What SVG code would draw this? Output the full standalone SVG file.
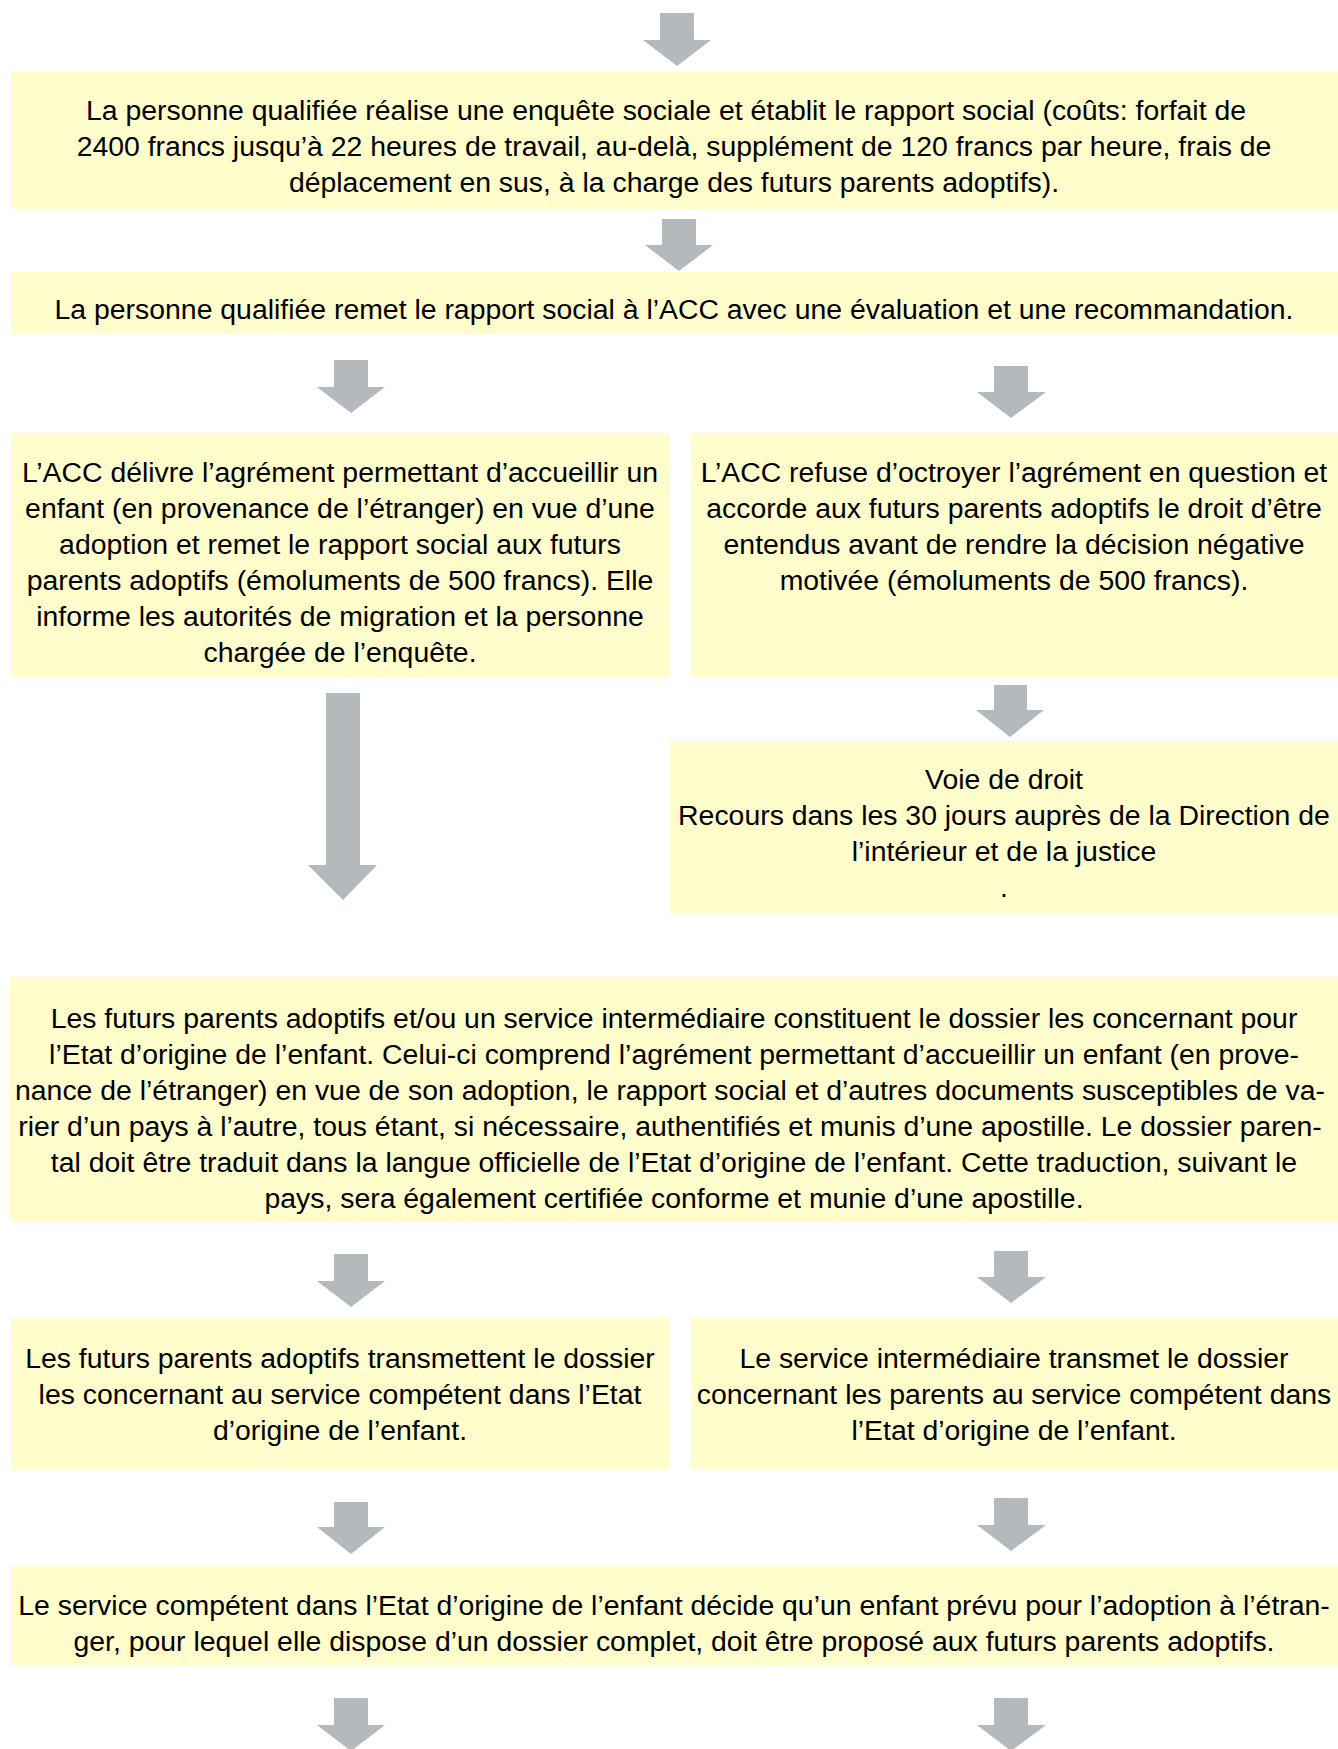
<svg xmlns="http://www.w3.org/2000/svg" width="1338" height="1749" viewBox="0 0 1338 1749">
<style>
.box{fill:#FFFDCC;}
.t{font-family:"Liberation Sans",Arial,sans-serif;font-size:28.4px;fill:#000;text-anchor:middle;}
.arr{fill:#B3B9BC;}
</style>
<rect width="1338" height="1749" fill="#ffffff"/>
<g id="connectors">
<polygon class="arr" points="660,13 694,13 694,40 711,40 677,66 643,40 660,40"/>
<polygon class="arr" points="662,219 696,219 696,245 713,245 679,271 645,245 662,245"/>
<polygon class="arr" points="334,360 368,360 368,387 385,387 351,413 317,387 334,387"/>
<polygon class="arr" points="994,366 1028,366 1028,392 1046,392 1011,418 977,392 994,392"/>
<polygon class="arr" points="994,685 1027,685 1027,710 1044,710 1010,737 976,710 994,710"/>
<polygon class="arr" points="326,693 360,693 360,865 377,865 343,900 308,865 326,865"/>
<polygon class="arr" points="334,1254 368,1254 368,1281 385,1281 351,1307 317,1281 334,1281"/>
<polygon class="arr" points="994,1251 1028,1251 1028,1277 1046,1277 1011,1303 977,1277 994,1277"/>
<polygon class="arr" points="334,1502 368,1502 368,1527 385,1527 351,1554 317,1527 334,1527"/>
<polygon class="arr" points="994,1498 1028,1498 1028,1525 1046,1525 1011,1551 977,1525 994,1525"/>
<polygon class="arr" points="334,1698 368,1698 368,1725 385,1725 351,1751 317,1725 334,1725"/>
<polygon class="arr" points="994,1698 1028,1698 1028,1725 1046,1725 1011,1751 977,1725 994,1725"/>
</g>
<g id="n1">
<rect class="box" x="11" y="72" width="1327" height="137"/>
<text class="t" x="666" y="120">La personne qualifiée réalise une enquête sociale et établit le rapport social (coûts: forfait de</text>
<text class="t" x="674" y="156">2400 francs jusqu’à 22 heures de travail, au-delà, supplément de 120 francs par heure, frais de</text>
<text class="t" x="674" y="192">déplacement en sus, à la charge des futurs parents adoptifs).</text>
</g>
<g id="n2">
<rect class="box" x="11" y="272" width="1327" height="62"/>
<text class="t" x="674" y="319">La personne qualifiée remet le rapport social à l’ACC avec une évaluation et une recommandation.</text>
</g>
<g id="n3">
<rect class="box" x="11" y="433" width="659" height="244"/>
<text class="t" x="340" y="482">L’ACC délivre l’agrément permettant d’accueillir un</text>
<text class="t" x="340" y="518">enfant (en provenance de l’étranger) en vue d’une</text>
<text class="t" x="340" y="554">adoption et remet le rapport social aux futurs</text>
<text class="t" x="340" y="590">parents adoptifs (émoluments de 500 francs). Elle</text>
<text class="t" x="340" y="626">informe les autorités de migration et la personne</text>
<text class="t" x="340" y="662">chargée de l’enquête.</text>
</g>
<g id="n4">
<rect class="box" x="691" y="433" width="647" height="244"/>
<text class="t" x="1014" y="482">L’ACC refuse d’octroyer l’agrément en question et</text>
<text class="t" x="1014" y="518">accorde aux futurs parents adoptifs le droit d’être</text>
<text class="t" x="1014" y="554">entendus avant de rendre la décision négative</text>
<text class="t" x="1014" y="590">motivée (émoluments de 500 francs).</text>
</g>
<g id="n5">
<rect class="box" x="670" y="741" width="668" height="172"/>
<text class="t" x="1004" y="789">Voie de droit</text>
<text class="t" x="1004" y="825">Recours dans les 30 jours auprès de la Direction de</text>
<text class="t" x="1004" y="861">l’intérieur et de la justice</text>
<text class="t" x="1004" y="897">.</text>
</g>
<g id="n6">
<rect class="box" x="10" y="977" width="1328" height="245"/>
<text class="t" x="674" y="1028">Les futurs parents adoptifs et/ou un service intermédiaire constituent le dossier les concernant pour</text>
<text class="t" x="674" y="1064">l’Etat d’origine de l’enfant. Celui-ci comprend l’agrément permettant d’accueillir un enfant (en prove-</text>
<text class="t" x="670" y="1100">nance de l’étranger) en vue de son adoption, le rapport social et d’autres documents susceptibles de va-</text>
<text class="t" x="670" y="1136">rier d’un pays à l’autre, tous étant, si nécessaire, authentifiés et munis d’une apostille. Le dossier paren-</text>
<text class="t" x="674" y="1172">tal doit être traduit dans la langue officielle de l’Etat d’origine de l’enfant. Cette traduction, suivant le</text>
<text class="t" x="674" y="1208">pays, sera également certifiée conforme et munie d’une apostille.</text>
</g>
<g id="n7">
<rect class="box" x="11" y="1318" width="659" height="152"/>
<text class="t" x="340" y="1368">Les futurs parents adoptifs transmettent le dossier</text>
<text class="t" x="340" y="1404">les concernant au service compétent dans l’Etat</text>
<text class="t" x="340" y="1440">d’origine de l’enfant.</text>
</g>
<g id="n8">
<rect class="box" x="691" y="1318" width="647" height="152"/>
<text class="t" x="1014" y="1368">Le service intermédiaire transmet le dossier</text>
<text class="t" x="1014" y="1404">concernant les parents au service compétent dans</text>
<text class="t" x="1014" y="1440">l’Etat d’origine de l’enfant.</text>
</g>
<g id="n9">
<rect class="box" x="11" y="1566" width="1327" height="100"/>
<text class="t" x="674" y="1615">Le service compétent dans l’Etat d’origine de l’enfant décide qu’un enfant prévu pour l’adoption à l’étran-</text>
<text class="t" x="674" y="1651">ger, pour lequel elle dispose d’un dossier complet, doit être proposé aux futurs parents adoptifs.</text>
</g>
</svg>
